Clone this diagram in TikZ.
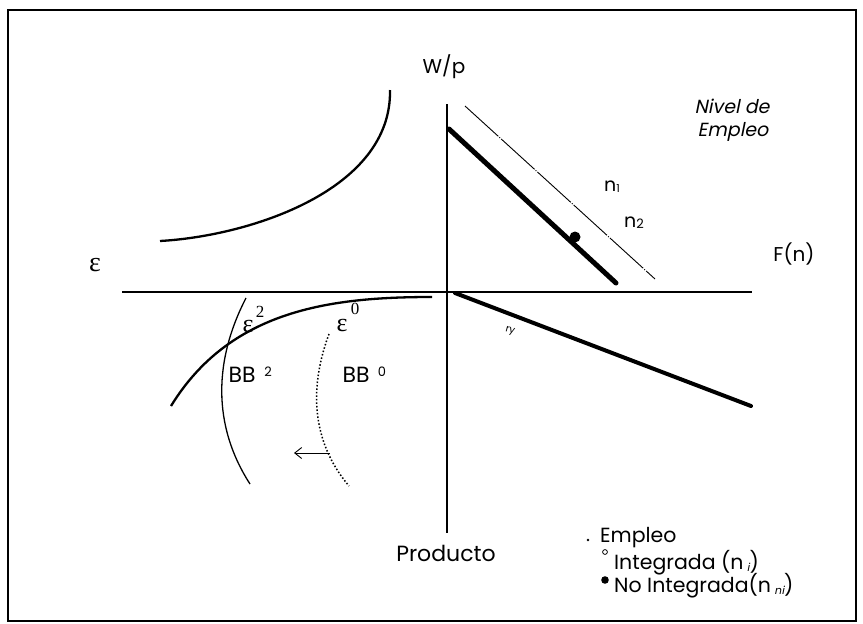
\documentclass[tikz,border=0pt]{standalone}
\usepackage{fontspec}
\setmainfont{Poppins}
\newfontfamily\slfont{Poppins}[FakeSlant=0.2]
\newfontfamily\grk{Liberation Serif}
\usetikzlibrary{arrows.meta}
\begin{document}
\begin{tikzpicture}[x=1pt,y=-1pt,
  axis/.style={line width=2pt},
  curvestyle/.style={line width=2.3pt},
  lbl/.style={inner sep=0pt, font=\fontsize{20}{22}\selectfont},
  small/.style={inner sep=0pt, font=\fontsize{13}{14}\selectfont},
  leg/.style={inner sep=0pt, anchor=west, font=\fontsize{20.5}{22}\selectfont},
  greek/.style={inner sep=0pt, font=\fontsize{28}{28}\selectfont\grk},
  grsup/.style={inner sep=0pt, font=\fontsize{17}{17}\selectfont\grk}]
\useasboundingbox (0,0) rectangle (863,624);
\draw[line width=2pt] (8,10) rectangle (856,621);
% axes
\coordinate (ytop) at (447,104);
\coordinate (ybot) at (447,533);
\coordinate (xl) at (122,292);
\coordinate (xr) at (752,292);
\draw[axis] (ytop) -- (ybot);
\draw[axis] (xl) -- (xr);
% labour demand lines
\coordinate (n2a) at (449,129);
\coordinate (n2b) at (616,283);
\coordinate (n1a) at (465,106);
\coordinate (n1b) at (655,279);
\draw[line width=5pt, line cap=round] (n2a) -- (n2b);
\draw[line width=0.9pt, dash pattern=on 45pt off 1.5pt on 1pt off 1.5pt] (n1a) -- (n1b);
\fill (575,237) circle (5.5);
% production function
\coordinate (pa) at (455,293);
\coordinate (pb) at (751,406);
\draw[line width=4pt, line cap=round] (pa) -- (pb);
\node[inner sep=0pt, font=\fontsize{10}{10}\selectfont, rotate=-15] (ry) at (510,331) {ry};
% upper-left curve
\coordinate (ula) at (160,241);
\coordinate (ulb) at (390,90);
\draw[curvestyle] (ula) .. controls (250,236) and (392,190) .. (ulb);
% lower-left curve
\coordinate (lla) at (171,406);
\coordinate (llb) at (432,297);
\draw[curvestyle] (lla) .. controls (230,310) and (330,297) .. (llb);
% BB curves
\coordinate (b2a) at (246,298);
\coordinate (b2b) at (250,484);
\draw[line width=1.3pt] (b2a) .. controls (214,360) and (212,425) .. (b2b);
\coordinate (b0a) at (329,334);
\coordinate (b0b) at (349,486);
\draw[line width=1.5pt, dotted] (b0a) .. controls (310,385) and (310,440) .. (b0b);
\coordinate (arra) at (330,453);
\coordinate (arrb) at (294,453);
\draw[line width=0.9pt, -{Straight Barb[length=7pt,width=11pt]}] (arra) -- (arrb);
% labels
\node[lbl] (wp) at (444,67) {W/p};
\node[greek] (eps) at (95,265) {ε};
\node[lbl] (fn) at (794,254) {F(n)};
\node[inner sep=0pt, font=\fontsize{19}{20}\selectfont\slfont] (niv1) at (732,106) {Nivel de};
\node[inner sep=0pt, font=\fontsize{19}{20}\selectfont\slfont] (niv2) at (733,132) {Empleo};
\node[inner sep=0pt, font=\fontsize{19}{20}\selectfont] (n1) at (612,187) {n\raisebox{-1pt}{\fontsize{11}{11}\selectfont 1}};
\node[inner sep=0pt, font=\fontsize{19}{20}\selectfont] (n2) at (634,223) {n\raisebox{-1pt}{\fontsize{13}{13}\selectfont 2}};
\node[lbl, font=\fontsize{22}{24}\selectfont] (prod) at (446,553) {Producto};
\node[greek, font=\fontsize{26}{26}\selectfont\grk] (e2) at (248,326) {ε};
\node[grsup] (e2s) at (260,312) {2};
\node[greek, font=\fontsize{26}{26}\selectfont\grk] (e0) at (342,325) {ε};
\node[grsup] (e0s) at (355,309) {0};
\node[lbl, font=\fontsize{22}{24}\selectfont] (bb2) at (242,375) {BB};
\node[small] (bb2s) at (268,372) {2};
\node[lbl, font=\fontsize{22}{24}\selectfont] (bb0) at (356,375) {BB};
\node[small] (bb0s) at (382,372) {0};
% legend
\fill (588,540) circle (1.3);
\node[leg] (l1) at (600,538) {Empleo};
\draw[line width=0.8pt] (605,552) circle (2.4);
\node[leg] (l2) at (614,563) {Integrada (n\,\raisebox{-2pt}{\fontsize{11}{11}\selectfont\slfont i})};
\fill (605,580) circle (3.8);
\node[leg] (l3) at (614,586) {No Integrada(n\,\raisebox{-2pt}{\fontsize{11}{11}\selectfont\slfont ni})};
\end{tikzpicture}
\end{document}
